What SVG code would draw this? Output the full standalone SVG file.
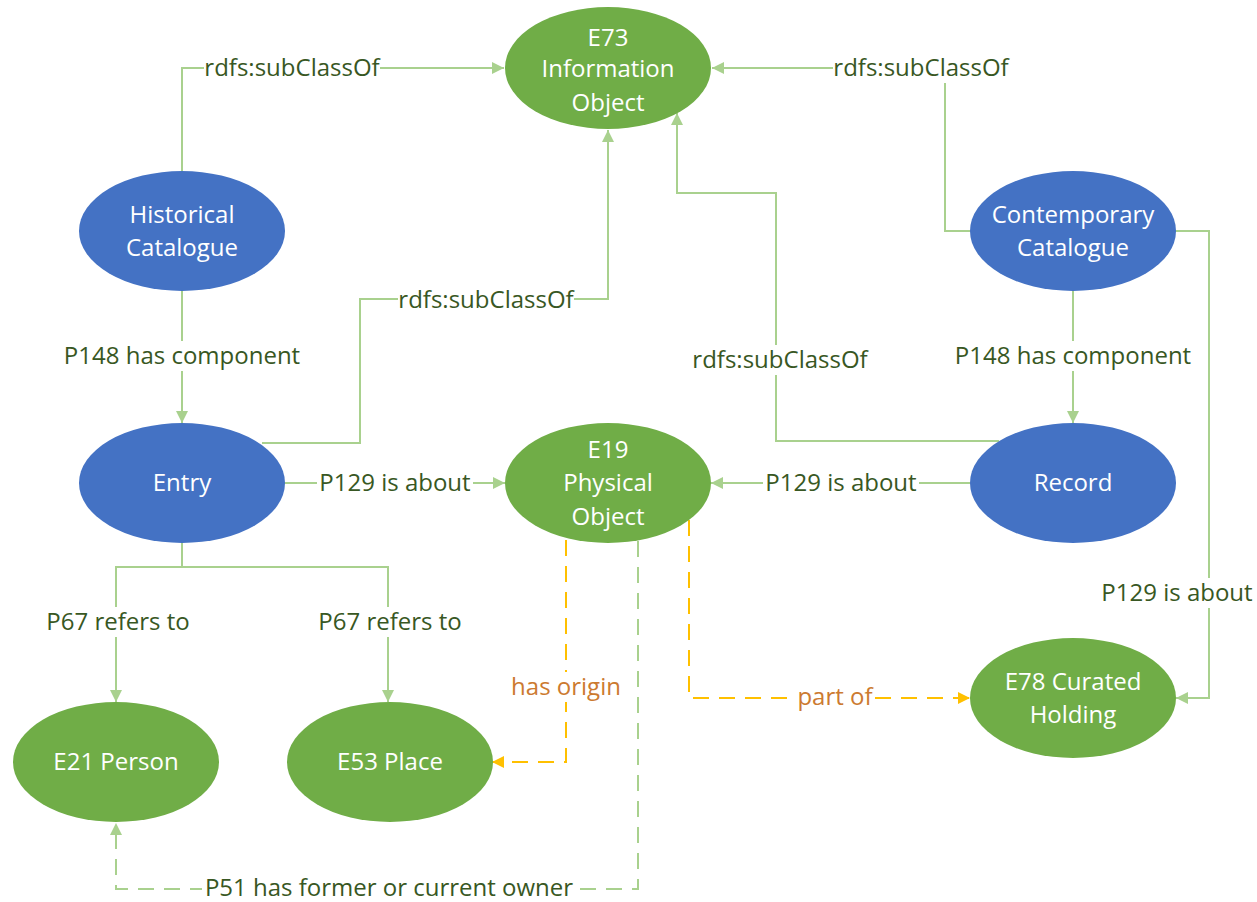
<svg xmlns="http://www.w3.org/2000/svg" width="1257" height="902" viewBox="0 0 1257 902">
<style>
.blue{fill:#4472C4}
.green{fill:#70AD47}
.nt{font-family:"Open Sans","Liberation Sans",sans-serif;font-size:24px;fill:#FFFFFF;text-anchor:middle}
.ln{fill:none;stroke:#A9D18E;stroke-width:2}
.lnd{fill:none;stroke:#A9D18E;stroke-width:2;stroke-dasharray:16 10}
.lno{fill:none;stroke:#FFC000;stroke-width:2;stroke-dasharray:16 10}
.bg{fill:#FFFFFF}
.lt{font-family:"Open Sans","Liberation Sans",sans-serif;font-size:24px;fill:#385723;text-anchor:middle}
.lto{font-family:"Open Sans","Liberation Sans",sans-serif;font-size:24px;fill:#CC7A30;text-anchor:middle}
</style>
<defs>
<marker id="ag" markerUnits="userSpaceOnUse" markerWidth="14" markerHeight="14" refX="12" refY="7" orient="auto">
<path d="M0,1 L12,7 L0,13 z" fill="#A9D18E"/>
</marker>
<marker id="ao" markerUnits="userSpaceOnUse" markerWidth="14" markerHeight="14" refX="12" refY="7" orient="auto">
<path d="M0,1 L12,7 L0,13 z" fill="#FFC000"/>
</marker>
</defs>
<rect width="1257" height="902" fill="#FFFFFF"/>
<g id="connectors">
<path class="ln" d="M182,171 V68 H504" marker-end="url(#ag)"/>
<path class="ln" d="M970,231 H945 V68 H712" marker-end="url(#ag)"/>
<path class="ln" d="M262,443 H360 V299 H608 V130" marker-end="url(#ag)"/>
<path class="ln" d="M999,441 H776 V193 H677 V113" marker-end="url(#ag)"/>
<path class="ln" d="M182,291 V423" marker-end="url(#ag)"/>
<path class="ln" d="M1073,291 V423" marker-end="url(#ag)"/>
<path class="ln" d="M285,483 H505" marker-end="url(#ag)"/>
<path class="ln" d="M970,483 H711" marker-end="url(#ag)"/>
<path class="ln" d="M1176,231 H1209 V698 H1176" marker-end="url(#ag)"/>
<path class="ln" d="M182,543 V567 H116 V702" marker-end="url(#ag)"/>
<path class="ln" d="M182,567 H388 V702" marker-end="url(#ag)"/>
<path class="lno" d="M566,540 V762 H492" marker-end="url(#ao)"/>
<path class="lno" d="M689,520 V698 H970" marker-end="url(#ao)"/>
<path class="lnd" d="M638,541 V889 H116 V823" marker-end="url(#ag)"/>
<g id="labels">
<rect class="bg" x="204" y="53" width="176" height="30"/><text class="lt" x="292" y="76">rdfs:subClassOf</text>
<rect class="bg" x="833" y="53" width="176" height="30"/><text class="lt" x="921" y="76">rdfs:subClassOf</text>
<rect class="bg" x="398" y="285" width="176" height="30"/><text class="lt" x="486" y="308">rdfs:subClassOf</text>
<rect class="bg" x="692" y="345" width="176" height="30"/><text class="lt" x="780" y="368">rdfs:subClassOf</text>
<rect class="bg" x="60" y="341" width="244" height="30"/><text class="lt" x="182" y="364">P148 has component</text>
<rect class="bg" x="951" y="341" width="244" height="30"/><text class="lt" x="1073" y="364">P148 has component</text>
<rect class="bg" x="317" y="468" width="156" height="30"/><text class="lt" x="395" y="491">P129 is about</text>
<rect class="bg" x="763" y="468" width="156" height="30"/><text class="lt" x="841" y="491">P129 is about</text>
<rect class="bg" x="1099" y="578" width="156" height="30"/><text class="lt" x="1177" y="601">P129 is about</text>
<rect class="bg" x="45" y="607" width="146" height="30"/><text class="lt" x="118" y="630">P67 refers to</text>
<rect class="bg" x="317" y="607" width="146" height="30"/><text class="lt" x="390" y="630">P67 refers to</text>
<rect class="bg" x="510" y="672" width="112" height="30"/><text class="lto" x="566" y="695">has origin</text>
<rect class="bg" x="796" y="682" width="78" height="30"/><text class="lto" x="835" y="705">part of</text>
<rect class="bg" x="202" y="876" width="374" height="24"/><text class="lt" x="389" y="896">P51 has former or current owner</text>
</g>
</g>
<g id="e73"><ellipse class="green" cx="608" cy="68" rx="103" ry="61"/><text class="nt" x="608" y="46">E73</text><text class="nt" x="608" y="77">Information</text><text class="nt" x="608" y="111">Object</text></g>
<g id="historical"><ellipse class="blue" cx="182" cy="231" rx="103" ry="60"/><text class="nt" x="182" y="223">Historical</text><text class="nt" x="182" y="256">Catalogue</text></g>
<g id="contemporary"><ellipse class="blue" cx="1073" cy="231" rx="103" ry="60"/><text class="nt" x="1073" y="223">Contemporary</text><text class="nt" x="1073" y="256">Catalogue</text></g>
<g id="entry"><ellipse class="blue" cx="182" cy="483" rx="103" ry="60"/><text class="nt" x="182" y="491">Entry</text></g>
<g id="e19"><ellipse class="green" cx="608" cy="483" rx="103" ry="60"/><text class="nt" x="608" y="458">E19</text><text class="nt" x="608" y="491">Physical</text><text class="nt" x="608" y="525">Object</text></g>
<g id="record"><ellipse class="blue" cx="1073" cy="483" rx="103" ry="60"/><text class="nt" x="1073" y="491">Record</text></g>
<g id="e21"><ellipse class="green" cx="116" cy="762" rx="103" ry="60"/><text class="nt" x="116" y="770">E21 Person</text></g>
<g id="e53"><ellipse class="green" cx="390" cy="762" rx="103" ry="60"/><text class="nt" x="390" y="770">E53 Place</text></g>
<g id="e78"><ellipse class="green" cx="1073" cy="698" rx="103" ry="60"/><text class="nt" x="1073" y="690">E78 Curated</text><text class="nt" x="1073" y="723">Holding</text></g>
</svg>
